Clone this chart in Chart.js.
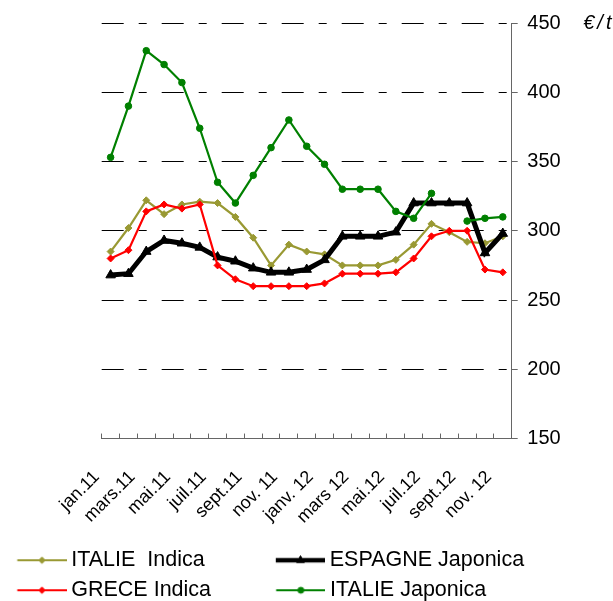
<!DOCTYPE html>
<html>
<head>
<meta charset="utf-8">
<script src="https://cdn.jsdelivr.net/npm/chart.js@4.4.0/dist/chart.umd.min.js"></script>
<style>
body { margin: 0; overflow: hidden; background: #fff; }
#wrap { width: 613px; height: 611px; }
</style>
</head>
<body>
<div id="wrap"><canvas id="myChart"></canvas></div>
<script>
// months jan.11 -> nov.12
var months = ['jan.11', 'févr.11', 'mars.11', 'avr.11', 'mai.11', 'juin.11', 'juil.11', 'août.11',
    'sept.11', 'oct.11', 'nov. 11', 'déc.11', 'janv. 12', 'févr.12', 'mars 12', 'avr.12', 'mai.12',
    'juin.12', 'juil.12', 'août.12', 'sept.12', 'oct.12', 'nov. 12'];
// labels shown under the axis (every other month)
var tickLabels = ['jan.11', 'mars.11', 'mai.11', 'juil.11', 'sept.11', 'nov. 11',
    'janv. 12', 'mars 12', 'mai.12', 'juil.12', 'sept.12', 'nov. 12'];
var yTicks = [150, 200, 250, 300, 350, 400, 450];

var italieIndica = [285, 302, 322, 312, 319, 321, 320, 310, 295, 275, 290, 285, 283, 275, 275, 275, 279, 290, 305, 299, 292, 291, 296];
var espagneJaponica = [268, 269, 285, 293, 291, 288, 281, 278, 273, 270, 270, 272, 279, 296, 296, 296, 299, 320, 320, 320, 320, 284, 298];
var greceIndica = [280, 286, 314, 319, 316, 319, 275, 265, 260, 260, 260, 260, 262, 269, 269, 269, 270, 280, 296, 300, 300, 272, 270];
var italieJaponica = [353, 390, 430, 420, 407, 374, 335, 320, 340, 360, 380, 361, 348, 330, 330, 330, 314, 309, 327, null, 307, 309, 310];

var FONT = '"Liberation Sans", Arial, sans-serif';

//small picture of line + marker for the legend
function legendSymbol(color, lineWidth, style, radius) {
    var c = document.createElement('canvas');
    c.width = 64;
    c.height = 16;
    var g = c.getContext('2d');
    g.strokeStyle = color;
    g.fillStyle = color;
    g.lineWidth = lineWidth;
    g.beginPath();
    g.moveTo(14.8, 8);
    g.lineTo(64, 8);
    g.stroke();
    g.lineWidth = 1;
    Chart.helpers.drawPoint(g, {pointStyle: style, radius: radius, rotation: 0, borderWidth: 1}, 39.5, 8);
    return c;
}

// draw order: first dataset ends up on top
var series = [
    {label: 'ITALIE Japonica', data: italieJaponica, color: '#008000', width: 2.2, style: 'circle', radius: 3.3, legRadius: 3},
    {label: 'GRECE Indica', data: greceIndica, color: '#ff0000', width: 2.2, style: 'rectRot', radius: 3.5, legRadius: 3.2},
    {label: 'ESPAGNE Japonica', data: espagneJaponica, color: '#000000', width: 5, style: 'triangle', radius: 5.5, legRadius: 4.5},
    {label: 'ITALIE  Indica', data: italieIndica, color: '#999933', width: 2.2, style: 'rectRot', radius: 3.5, legRadius: 3.2}
];
// legend reading order, trailing space keeps the second column in place
var legendOrder = [3, 2, 1, 0];
var legendPad = ['         ', '', '        ', ''];

var datasets = series.map(function (s) {
    return {
        label: s.label,
        data: s.data,
        xAxisID: 'x',
        yAxisID: 'y',
        borderColor: s.color,
        backgroundColor: s.color,
        borderWidth: s.width,
        pointStyle: s.style,
        pointRadius: s.radius,
        pointHoverRadius: s.radius,
        pointBorderWidth: 1,
        pointBackgroundColor: s.color,
        pointBorderColor: s.color,
        tension: 0,
        spanGaps: false,
        fill: false
    };
});

var unitLabel = {
    id: 'unitLabel',
    afterDraw: function (chart) {
        var s = chart.scales.y;
        var ctx = chart.ctx;
        ctx.save();
        ctx.font = 'italic 20px ' + FONT;
        ctx.letterSpacing = '3px';
        ctx.fillStyle = '#000';
        ctx.textAlign = 'left';
        ctx.textBaseline = 'middle';
        ctx.fillText('€/t', s.left + 71.5, s.getPixelForValue(450));
        ctx.restore();
    }
};

var ctx = document.getElementById('myChart').getContext('2d');
var myChart = new Chart(ctx, {
    type: 'line',
    data: {labels: months, datasets: datasets},
    plugins: [unitLabel],
    options: {
        responsive: true,
        maintainAspectRatio: false,
        devicePixelRatio: 1,
        animation: false,
        layout: {padding: {top: 23, left: 0, right: 0, bottom: 0}},
        plugins: {
            tooltip: {enabled: false},
            legend: {
                position: 'bottom',
                align: 'start',
                labels: {
                    usePointStyle: true,
                    pointStyleWidth: 52,
                    padding: 8.5,
                    color: '#000',
                    font: {size: 21.5, family: FONT},
                    generateLabels: function (chart) {
                        return legendOrder.map(function (i, n) {
                            var s = series[i];
                            return {
                                text: s.label + legendPad[n],
                                pointStyle: legendSymbol(s.color, s.width === 5 ? 4.5 : 2, s.style, s.legRadius),
                                fillStyle: s.color,
                                strokeStyle: s.color,
                                lineWidth: 0,
                                hidden: false,
                                datasetIndex: i,
                                fontColor: '#000'
                            };
                        });
                    }
                }
            }
        },
        scales: {
            x: {
                type: 'category',
                offset: true,
                ticks: {
                    autoSkip: false,
                    minRotation: 45,
                    maxRotation: 45,
                    labelOffset: -14,
                    padding: 33,
                    color: '#000',
                    font: {size: 18, family: FONT},
                    callback: function (v, i) { return i % 2 === 0 ? tickLabels[i / 2] : ''; }
                },
                grid: {display: true, drawOnChartArea: false, offset: true, tickLength: -5, color: '#666', tickColor: '#666'},
                border: {display: true, color: '#666', width: 1},
                afterFit: function (s) { s.height = 102.45; }
            },
            yl: {
                type: 'linear',
                position: 'left',
                display: true,
                ticks: {display: false},
                grid: {display: false, drawTicks: false},
                border: {display: false},
                afterFit: function (s) { s.width = 101.7; }
            },
            y: {
                position: 'right',
                min: 150,
                max: 450,
                afterBuildTicks: function (s) {
                    s.ticks = yTicks.map(function (v) { return {value: v}; });
                },
                ticks: {color: '#000', padding: 9.6, font: {size: 20, family: FONT}},
                grid: {
                    lineWidth: 1,
                    tickLength: 6,
                    tickColor: '#666',
                    color: function (c) { return c.tick && c.tick.value === 150 ? 'rgba(0,0,0,0)' : '#000'; }
                },
                border: {display: true, color: '#666', width: 1, dash: [22, 15, 8, 15]},
                afterFit: function (s) { s.width = 101.3; }
            }
        }
    }
});
</script>
</body>
</html>
